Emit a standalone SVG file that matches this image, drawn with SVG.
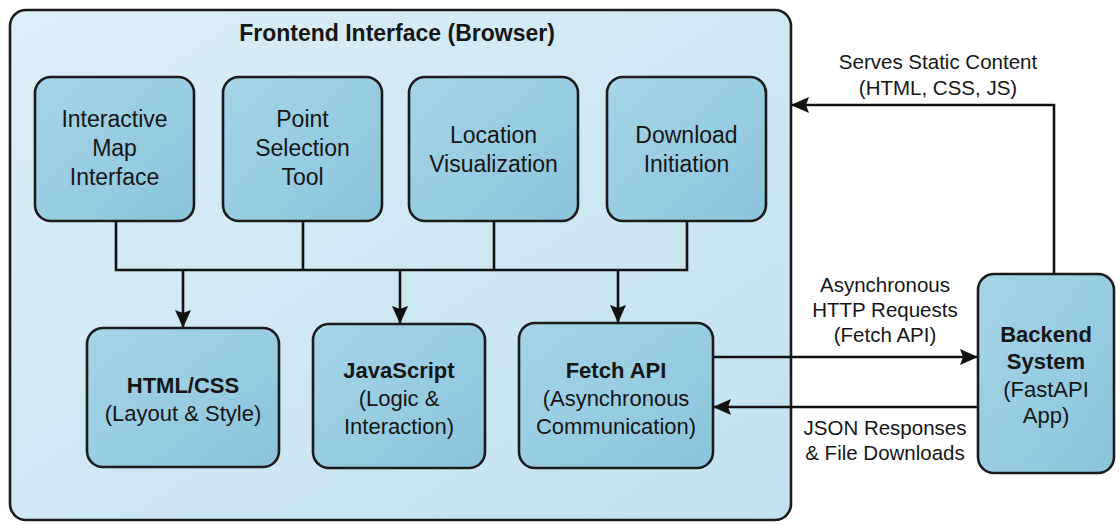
<svg xmlns="http://www.w3.org/2000/svg" width="1120" height="525" viewBox="0 0 1120 525">
  <style>
    text { font-family: "Liberation Sans", Arial, sans-serif; fill: #161616; text-anchor: middle; }
    .box { fill: url(#boxFill); stroke: #1b1b1b; stroke-width: 2.6; }
    .frame { fill: url(#frameFill); stroke: #1b1b1b; stroke-width: 2.6; }
    .t23 { font-size: 23px; }
    .t22 { font-size: 22px; }
    .b22 { font-size: 22px; font-weight: bold; }
    .lbl { font-size: 20.5px; }
    .wire { fill: none; stroke: #111; stroke-width: 2.6; }
    .arr { fill: none; stroke: #111; stroke-width: 2.6; marker-end: url(#head); }
  </style>
  <defs>
    <linearGradient id="frameFill" x1="0" y1="0" x2="1" y2="1">
      <stop offset="0" stop-color="#dbeff7"/>
      <stop offset="1" stop-color="#c2e1ee"/>
    </linearGradient>
    <linearGradient id="boxFill" x1="0" y1="0" x2="1" y2="1">
      <stop offset="0" stop-color="#a6d5e7"/>
      <stop offset="1" stop-color="#8bc4db"/>
    </linearGradient>
    <marker id="head" viewBox="0 0 18 16" refX="17" refY="8" markerWidth="18" markerHeight="16" markerUnits="userSpaceOnUse" orient="auto">
      <path d="M0,0 L18,8 L0,16 L3,8 Z" fill="#111"/>
    </marker>
  </defs>

  <rect width="1120" height="525" fill="#ffffff"/>

  <!-- Browser frontend container -->
  <g id="frontend">
    <rect class="frame" x="10" y="10" width="781" height="510" rx="16"/>
    <text x="397" y="41" style="font-size:23px;font-weight:bold">Frontend Interface (Browser)</text>
  </g>

  <!-- Connectors -->
  <g id="connectors">
    <path class="wire" d="M116,221 V270 M303,221 V270 M494,221 V270 M687,221 V270 M114.7,270 H688.3"/>
    <path class="arr" d="M183,270 V327"/>
    <path class="arr" d="M400,270 V323"/>
    <path class="arr" d="M618,270 V322"/>
    <path class="arr" d="M713,357 H977"/>
    <path class="arr" d="M978,407 H714"/>
    <path class="arr" d="M1054,274 V105 H792"/>
  </g>

  <!-- Connector labels -->
  <g id="labels">
    <text class="lbl" x="938" y="69">Serves Static Content</text>
    <text class="lbl" x="938" y="95">(HTML, CSS, JS)</text>
    <text class="lbl" x="885" y="292">Asynchronous</text>
    <text class="lbl" x="885" y="317">HTTP Requests</text>
    <text class="lbl" x="885" y="342">(Fetch API)</text>
    <text class="lbl" x="885" y="435">JSON Responses</text>
    <text class="lbl" x="885" y="460">&amp; File Downloads</text>
  </g>

  <!-- Feature nodes -->
  <g id="map-interface">
    <rect class="box" x="35" y="77" width="159" height="144" rx="16"/>
    <text class="t23" x="114.5" y="127">Interactive</text>
    <text class="t23" x="114.5" y="156">Map</text>
    <text class="t23" x="114.5" y="185">Interface</text>
  </g>
  <g id="point-selection">
    <rect class="box" x="223" y="77" width="159" height="144" rx="16"/>
    <text class="t23" x="302.5" y="127">Point</text>
    <text class="t23" x="302.5" y="156">Selection</text>
    <text class="t23" x="302.5" y="185">Tool</text>
  </g>
  <g id="location-visualization">
    <rect class="box" x="409" y="77" width="169" height="144" rx="16"/>
    <text class="t23" x="493.5" y="143">Location</text>
    <text class="t23" x="493.5" y="172">Visualization</text>
  </g>
  <g id="download-initiation">
    <rect class="box" x="607" y="77" width="159" height="144" rx="16"/>
    <text class="t23" x="686.5" y="143">Download</text>
    <text class="t23" x="686.5" y="172">Initiation</text>
  </g>

  <!-- Technology nodes -->
  <g id="html-css">
    <rect class="box" x="87" y="328" width="192" height="139" rx="16"/>
    <text class="b22" x="183" y="393">HTML/CSS</text>
    <text class="t22" x="183" y="421">(Layout &amp; Style)</text>
  </g>
  <g id="javascript">
    <rect class="box" x="313" y="324" width="172" height="144" rx="16"/>
    <text class="b22" x="399" y="378">JavaScript</text>
    <text class="t22" x="399" y="406">(Logic &amp;</text>
    <text class="t22" x="399" y="434">Interaction)</text>
  </g>
  <g id="fetch-api">
    <rect class="box" x="519" y="323" width="194" height="145" rx="16"/>
    <text class="b22" x="616" y="378">Fetch API</text>
    <text class="t22" x="616" y="406">(Asynchronous</text>
    <text class="t22" x="616" y="434">Communication)</text>
  </g>

  <!-- Server node -->
  <g id="backend">
    <rect class="box" x="978" y="274" width="136" height="199" rx="16"/>
    <text class="b22" x="1046" y="342">Backend</text>
    <text class="b22" x="1046" y="369">System</text>
    <text class="t22" x="1046" y="397">(FastAPI</text>
    <text class="t22" x="1046" y="423">App)</text>
  </g>
</svg>
